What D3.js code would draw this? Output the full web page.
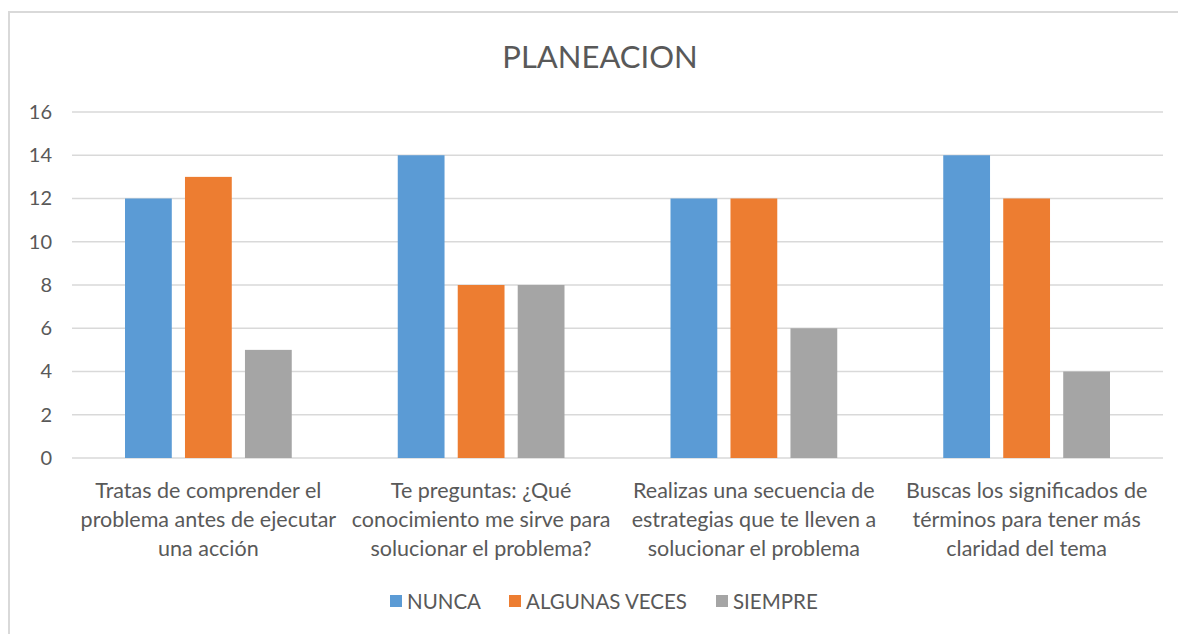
<!DOCTYPE html>
<html>
<head>
<meta charset="utf-8">
<script src="https://cdn.jsdelivr.net/npm/d3@7"></script>
<style>
  body { margin: 0; background: #fff; }
  text { font-family: Lato, "Open Sans", sans-serif; fill: #595959; }
</style>
</head>
<body>
<div id="chart"></div>
<script>
// data
var categories = [
  ["Tratas de comprender el", "problema antes de ejecutar", "una acción"],
  ["Te preguntas: ¿Qué", "conocimiento me sirve para", "solucionar el problema?"],
  ["Realizas una secuencia de", "estrategias que te lleven a", "solucionar el problema"],
  ["Buscas los significados de", "términos para tener más", "claridad del tema"]
];
var seriesNames = ["NUNCA", "ALGUNAS VECES", "SIEMPRE"];
var nunca = [12, 14, 12, 14];
var algunasVeces = [13, 8, 12, 12];
var siempre = [5, 8, 6, 4];
var yTicks = [0, 2, 4, 6, 8, 10, 12, 14, 16];
var colors = ["#5b9bd5", "#ed7d31", "#a5a5a5"];

var allSeries = [nunca, algunasVeces, siempre];

var svgWidth = 1178, svgHeight = 634;
var margin = { top: 112, right: 15, bottom: 176, left: 72 };
var width = svgWidth - margin.left - margin.right;
var height = svgHeight - margin.top - margin.bottom;

var svg = d3.select("#chart").append("svg")
  .attr("width", svgWidth)
  .attr("height", svgHeight);

// chart frame
svg.append("rect")
  .attr("x", 9).attr("y", 12)
  .attr("width", svgWidth).attr("height", svgHeight)
  .attr("fill", "none")
  .attr("stroke", "#d9d9d9")
  .attr("stroke-width", 2);

svg.append("text")
  .attr("x", 600).attr("y", 68)
  .attr("text-anchor", "middle")
  .style("font-size", "31px")
  .text("PLANEACION");

var chart = svg.append("g")
  .attr("transform", "translate(" + margin.left + "," + margin.top + ")");

var x0 = d3.scaleBand().domain(d3.range(categories.length)).range([0, width]);
var x1 = d3.scaleBand().domain(d3.range(seriesNames.length))
  .range([53, x0.bandwidth() - 53]).paddingInner(0.22);
var y = d3.scaleLinear().domain([0, 16]).range([height, 0]);

// gridlines
chart.append("g")
  .selectAll("line")
  .data(yTicks)
  .enter().append("line")
  .attr("x1", 0).attr("x2", width)
  .attr("y1", function(d) { return y(d); })
  .attr("y2", function(d) { return y(d); })
  .attr("stroke", "#d9d9d9")
  .attr("stroke-width", 1.3);

// y axis labels
var leftAxis = d3.axisLeft(y).tickValues(yTicks).tickSize(0).tickPadding(20);
var yAxis = chart.append("g").call(leftAxis);
yAxis.select(".domain").remove();
yAxis.selectAll("text").style("font-size", "20px").attr("fill", "#595959");

// bars
var groups = chart.selectAll(".grp")
  .data(categories)
  .enter().append("g")
  .attr("class", "grp")
  .attr("transform", function(d, i) { return "translate(" + x0(i) + ",0)"; });

groups.selectAll("rect")
  .data(function(d, i) {
    return allSeries.map(function(s, j) { return { s: j, v: s[i] }; });
  })
  .enter().append("rect")
  .attr("x", function(d) { return x1(d.s); })
  .attr("width", x1.bandwidth())
  .attr("y", function(d) { return y(d.v); })
  .attr("height", function(d) { return y(0) - y(d.v); })
  .attr("fill", function(d) { return colors[d.s]; });

// category labels
groups.append("text")
  .attr("text-anchor", "middle")
  .style("font-size", "21.5px")
  .selectAll("tspan")
  .data(function(d) { return d; })
  .enter().append("tspan")
  .attr("x", x0.bandwidth() / 2)
  .attr("y", function(d, k) { return height + 40 + k * 29; })
  .text(function(d) { return d; });

// legend
var legendX = [390, 509, 716];
var legend = svg.append("g").attr("transform", "translate(0,595)");
seriesNames.forEach(function(name, i) {
  legend.append("rect")
    .attr("x", legendX[i]).attr("y", 0)
    .attr("width", 12).attr("height", 12)
    .attr("fill", colors[i]);
  legend.append("text")
    .attr("x", legendX[i] + 17).attr("y", 14)
    .style("font-size", "20.5px")
    .text(name);
});
</script>
</body>
</html>
